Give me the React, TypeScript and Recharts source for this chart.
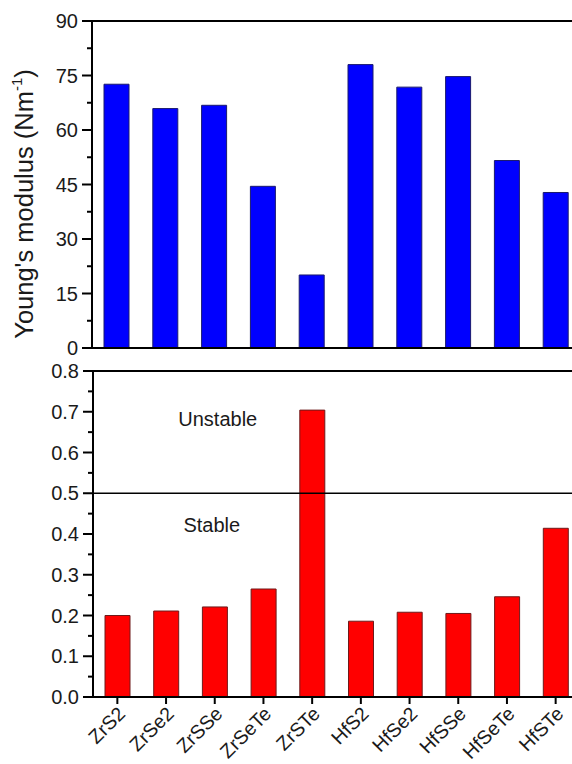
import React from 'react';
import { BarChart, Bar, XAxis, YAxis, ReferenceLine, ReferenceDot } from 'recharts';

const categories = ['ZrS2', 'ZrSe2', 'ZrSSe', 'ZrSeTe', 'ZrSTe', 'HfS2', 'HfSe2', 'HfSSe', 'HfSeTe', 'HfSTe'];
const youngsModulus = [72.6, 65.9, 66.8, 44.5, 20.1, 78.0, 71.8, 74.7, 51.6, 42.8];
const poissonRatio = [0.2, 0.211, 0.221, 0.265, 0.704, 0.186, 0.208, 0.205, 0.246, 0.414];

const topMajorTicks = [0, 15, 30, 45, 60, 75, 90];
const topMinorTicks = [7.5, 22.5, 37.5, 52.5, 67.5, 82.5];
const bottomMajorTicks = [0, 0.1, 0.2, 0.3, 0.4, 0.5, 0.6, 0.7, 0.8];
const bottomMinorTicks = [0.05, 0.15, 0.25, 0.35, 0.45, 0.55, 0.65, 0.75];
const stabilityLimit = 0.5;

const topData = categories.map((name, i) => ({ name, value: youngsModulus[i] }));
const bottomData = categories.map((name, i) => ({ name, value: poissonRatio[i] }));

const FONT = '"Liberation Sans", Arial, sans-serif';
const TXT = '#1a1a1a';

const makeYTick = (majors: number[], fmt: (v: number) => string) => (props: any) => {
  const { x, y, payload } = props;
  const v = payload.value;
  const isMajor = majors.some((m) => Math.abs(m - v) < 1e-9);
  const len = isMajor ? 10 : 5;
  return (
    <g>
      <line x1={x - len} x2={x} y1={y} y2={y} stroke="#000" strokeWidth={2} />
      {isMajor && (
        <text x={x - 14} y={y} dy="0.36em" textAnchor="end" fontSize={20} fontFamily={FONT} fill={TXT}>
          {fmt(v)}
        </text>
      )}
    </g>
  );
};

const XTick = (props: any) => {
  const { x, y, payload } = props;
  return (
    <g>
      <line x1={x} x2={x} y1={y} y2={y + 7} stroke="#000" strokeWidth={2} />
      <text
        transform={`translate(${x + 9},${y + 18}) rotate(-45)`}
        textAnchor="end"
        fontSize={19.5}
        fontFamily={FONT}
        fill={TXT}
      >
        {payload.value}
      </text>
    </g>
  );
};

const YoungLabel = () => (
  <text transform="translate(33,204) rotate(-90)" textAnchor="middle" fontSize={25.5} fontFamily={FONT} fill={TXT}>
    Young's modulus (Nm
    <tspan fontSize={15} dy={-11}>-1</tspan>
    <tspan fontSize={25.5} dy={11}>)</tspan>
  </text>
);

const PoissonLabel = () => (
  <text transform="translate(33,551) rotate(-90)" textAnchor="middle" fontSize={25.5} fontFamily={FONT} fill={TXT}>
    Poisson's ratio
  </text>
);

export default function App() {
  return (
    <div style={{ position: 'absolute', left: 0, top: 0, width: 572, height: 764, overflow: 'hidden', background: '#fff' }}>
      <div style={{ position: 'absolute', left: 0, top: 0 }}>
        <BarChart width={600} height={360} data={topData} margin={{ top: 21, right: 20, bottom: 0, left: 0 }}>
          <XAxis
            dataKey="name"
            tick={false}
            tickLine={false}
            height={12}
            axisLine={{ stroke: '#000', strokeWidth: 2 }}
          />
          <YAxis
            width={92}
            type="number"
            domain={[0, 90]}
            ticks={[...topMajorTicks, ...topMinorTicks].sort((a, b) => a - b)}
            interval={0}
            tickSize={0}
            tickMargin={0}
            tickLine={false}
            axisLine={{ stroke: '#000', strokeWidth: 2 }}
            tick={makeYTick(topMajorTicks, (v) => String(v))}
            label={<YoungLabel />}
          />
          <ReferenceLine y={90} stroke="#000" strokeWidth={2} />
          <Bar dataKey="value" fill="#0000ff" stroke="#1a1a6e" strokeWidth={1} barSize={25} isAnimationActive={false} />
        </BarChart>
      </div>
      <div style={{ position: 'absolute', left: 0, top: 350 }}>
        <BarChart width={600} height={414} data={bottomData} margin={{ top: 21, right: 20, bottom: 0, left: 0 }}>
          <XAxis
            dataKey="name"
            height={67}
            interval={0}
            tickSize={0}
            tickMargin={0}
            tickLine={false}
            axisLine={{ stroke: '#000', strokeWidth: 2 }}
            tick={<XTick />}
          />
          <YAxis
            width={93}
            type="number"
            domain={[0, 0.8]}
            ticks={[...bottomMajorTicks, ...bottomMinorTicks].sort((a, b) => a - b)}
            interval={0}
            tickSize={0}
            tickMargin={0}
            tickLine={false}
            axisLine={{ stroke: '#000', strokeWidth: 2 }}
            tick={makeYTick(bottomMajorTicks, (v) => v.toFixed(1))}
            label={<PoissonLabel />}
          />
          <ReferenceLine y={0.8} stroke="#000" strokeWidth={2} />
          <ReferenceLine y={stabilityLimit} stroke="#000" strokeWidth={1.5} />
          <ReferenceDot
            x="ZrSSe"
            y={0.682}
            r={1}
            fill="none"
            stroke="none"
            label={{ value: 'Unstable', position: 'center', fontSize: 20, fontFamily: FONT, fill: TXT, dx: 3 } as any}
          />
          <ReferenceDot
            x="ZrSSe"
            y={0.422}
            r={1}
            fill="none"
            stroke="none"
            label={{ value: 'Stable', position: 'center', fontSize: 20, fontFamily: FONT, fill: TXT, dx: -3 } as any}
          />
          <Bar dataKey="value" fill="#ff0000" stroke="#6e1a1a" strokeWidth={1} barSize={25} isAnimationActive={false} />
        </BarChart>
      </div>
    </div>
  );
}
